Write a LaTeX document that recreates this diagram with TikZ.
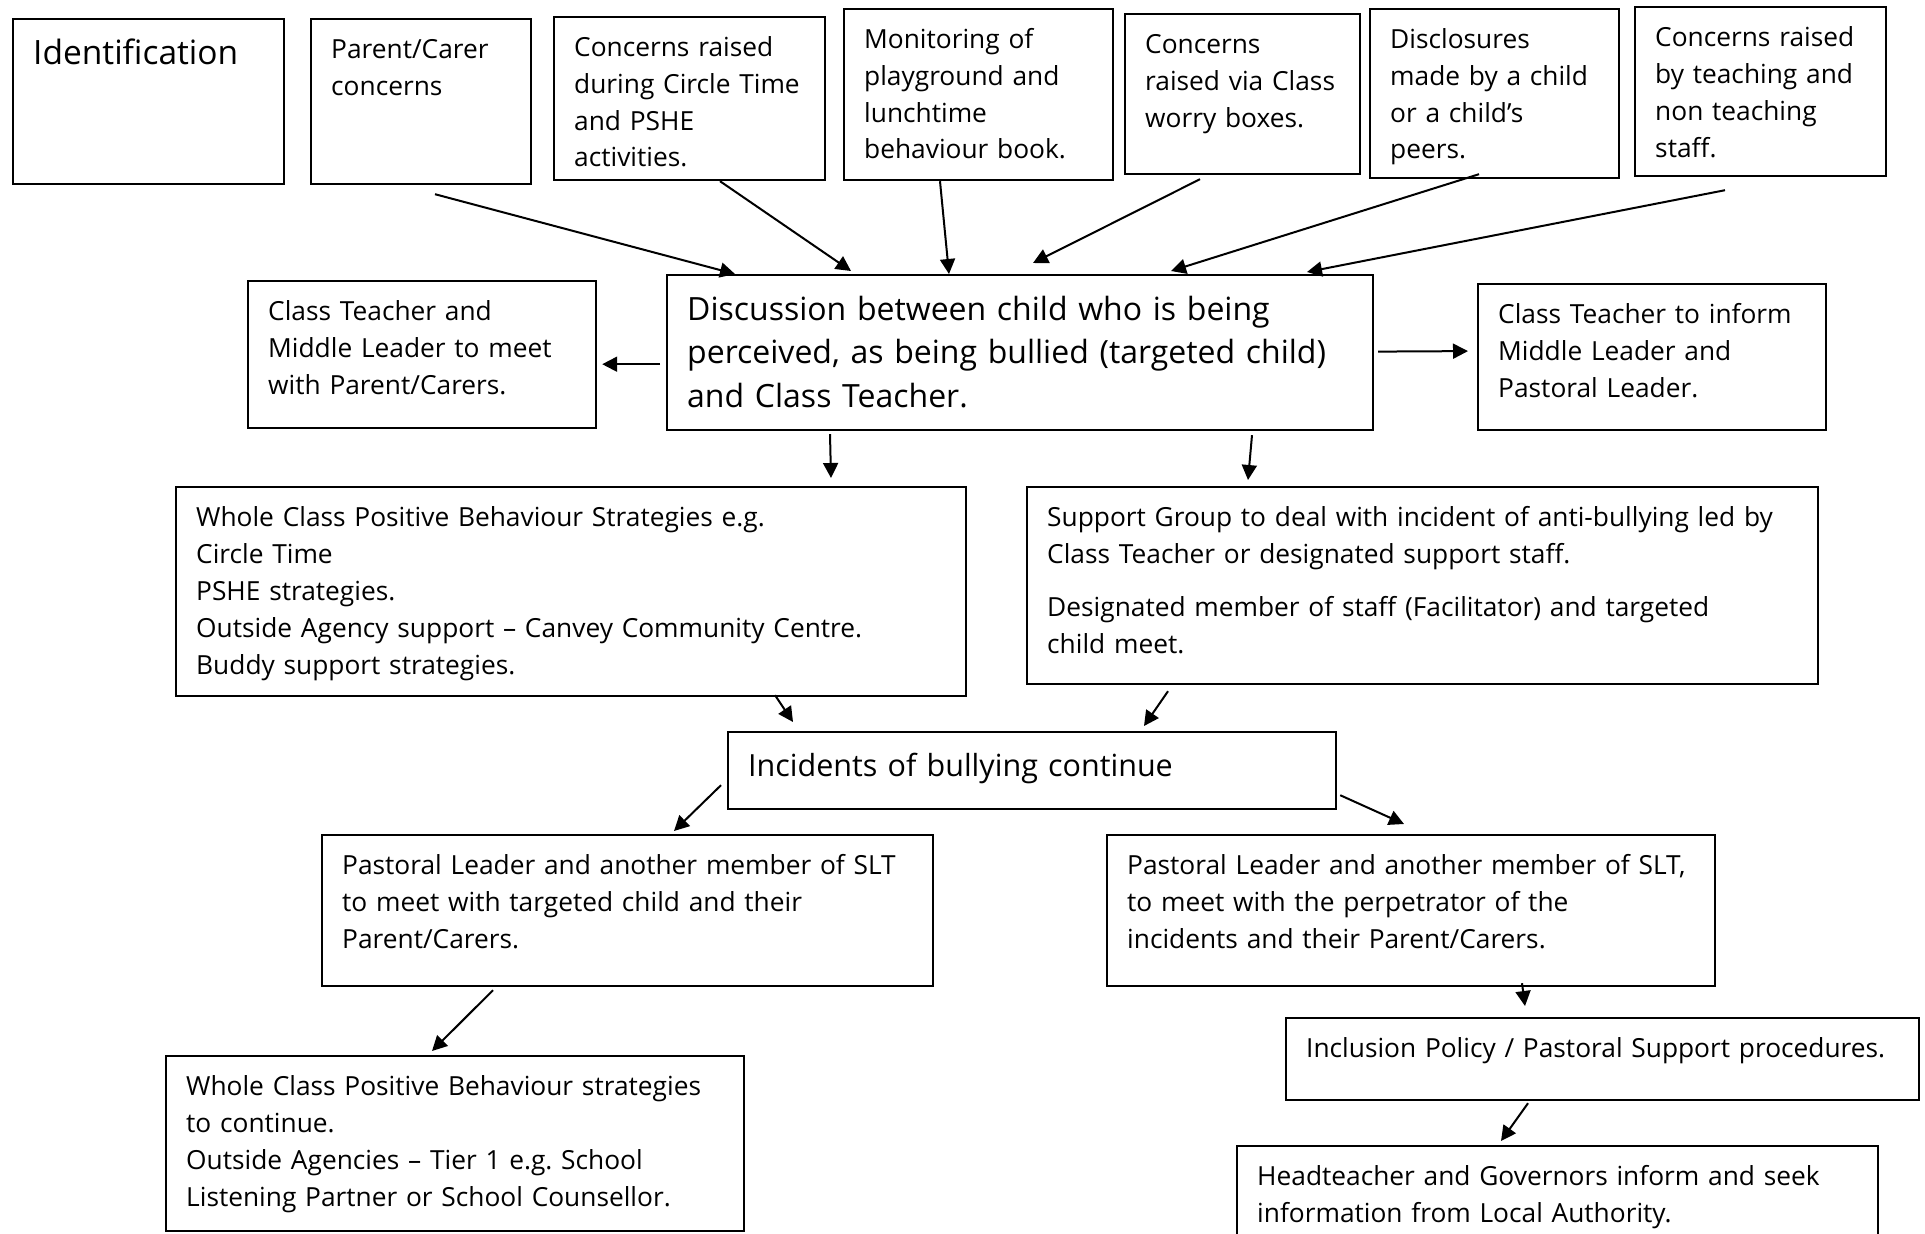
\documentclass[tikz,border=0pt]{standalone}
\usepackage{fontspec}
\setmainfont{Open Sans}
\usetikzlibrary{arrows.meta}
\newcommand{\bodysize}{\fontsize{26.3}{37}\selectfont}
\newcommand{\titlesize}{\fontsize{32}{43.6}\selectfont}
\tikzset{
	box/.style={draw,line width=2.2pt,inner sep=0pt,anchor=north west},
	boxtext/.style={anchor=base west,inner sep=0pt,align=left,font=\bodysize},
	titletext/.style={font=\titlesize,yshift=-6pt},
}
%% #2 = name, #3,#4 = top left corner, #5,#6 = bottom right corner (pixels, y downwards)
\newcommand{\flowbox}[7][]{%
	\pgfmathsetmacro\fbw{#5-#3}
	\pgfmathsetmacro\fbh{#6-#4}
	\pgfmathsetmacro\fbt{#5-#3-42}
	\node[box,minimum width=\fbw pt,minimum height=\fbh pt] (#2) at (#3,#4) {};
	\node[boxtext,text width=\fbt pt,#1] (#2-text) at ([shift={(21,40)}]#2.north west) {#7};
}
\begin{document}
\begin{tikzpicture}[>={Triangle[length=15pt,width=15pt]},x=1pt,y=-1pt]
\clip (0,0) rectangle (1925,1234);

%% top row
\flowbox[titletext,font=\fontsize{33.5}{43.6}\selectfont]{ident}{12}{18}{283}{183}{Identification}
\flowbox{parent}{310}{18}{530}{183}{Parent/Carer\\concerns}
\flowbox{circle}{553}{16}{824}{179}{Concerns raised\\during Circle Time\\and PSHE\\activities.}
\flowbox{monit}{843}{8}{1112}{179}{Monitoring of\\playground and\\lunchtime\\behaviour book.}
\flowbox{worry}{1124}{13}{1359}{173}{Concerns\\raised via Class\\worry boxes.}
\flowbox{discl}{1369}{8}{1618}{177}{Disclosures\\made by a child\\or a child’s\\peers.}
\flowbox{staff}{1634}{6}{1885}{175}{Concerns raised\\by teaching and\\non teaching\\staff.}

%% discussion row
\flowbox[titletext]{disc}{666}{274}{1372}{429}{Discussion between child who is being\\perceived, as being bullied (targeted child)\\and Class Teacher.}
\flowbox{meetpc}{247}{280}{595}{427}{Class Teacher and\\Middle Leader to meet\\with Parent/Carers.}
\flowbox{inform}{1477}{283}{1825}{429}{Class Teacher to inform\\Middle Leader and\\Pastoral Leader.}

%% strategies
\flowbox{whole}{175}{486}{965}{695}{Whole Class Positive Behaviour Strategies e.g.\\Circle Time\\PSHE strategies.\\Outside Agency support – Canvey Community Centre.\\Buddy support strategies.}
\flowbox{support}{1026}{486}{1817}{683}{Support Group to deal with incident of anti-bullying led by\\Class Teacher or designated support staff.\\[16pt]Designated member of staff (Facilitator) and targeted\\child meet.}

%% incidents continue
\flowbox[titletext,font=\fontsize{30.5}{43.6}\selectfont,yshift=1pt]{incid}{727}{731}{1335}{808}{Incidents of bullying continue}
\flowbox{pastl}{321}{834}{932}{985}{Pastoral Leader and another member of SLT\\to meet with targeted child and their\\Parent/Carers.}
\flowbox{pastr}{1106}{834}{1714}{985}{Pastoral Leader and another member of SLT,\\to meet with the perpetrator of the\\incidents and their Parent/Carers.}
\flowbox{cont}{165}{1055}{743}{1230}{Whole Class Positive Behaviour strategies\\to continue.\\Outside Agencies – Tier 1 e.g.\ School\\Listening Partner or School Counsellor.}
\flowbox{incl}{1285}{1017}{1918}{1099}{Inclusion Policy / Pastoral Support procedures.}
\flowbox{head}{1236}{1145}{1877}{1270}{Headteacher and Governors inform and seek\\information from Local Authority.}

%% arrows
\begin{scope}[line width=2pt]
\draw[->] ([shift={(125,9)}]parent.south west) -- ([shift={(69,0)}]disc.north west);
\draw[->] ([shift={(167,0)}]circle.south west) -- ([shift={(185,-3)}]disc.north west);
\draw[->] ([shift={(97,0)}]monit.south west) -- ([shift={(283,0)}]disc.north west);
\draw[->] ([shift={(76,4)}]worry.south west) -- ([shift={(367,-11)}]disc.north west);
\draw[->] ([shift={(110,-5)}]discl.south west) -- ([shift={(505,-3)}]disc.north west);
\draw[->] ([shift={(91,13)}]staff.south west) -- ([shift={(641,-2)}]disc.north west);
\draw[->] ([shift={(-6,-67)}]disc.south west) -- ([shift={(5,-65)}]meetpc.south east);
\draw[->] ([shift={(4,-1)}]disc.east) -- ([shift={(-9,-6)}]inform.west);
\draw[->] ([shift={(164,3)}]disc.south west) -- ([shift={(656,-8)}]whole.north west);
\draw[->] ([shift={(586,4)}]disc.south west) -- ([shift={(222,-6)}]support.north west);
\draw[->] ([shift={(600,-2)}]whole.south west) -- ([shift={(66,-9)}]incid.north west);
\draw[->] ([shift={(142,6)}]support.south west) -- ([shift={(417,-5)}]incid.north west);
\draw[->] ([shift={(-6,-25)}]incid.south west) -- ([shift={(353,-3)}]pastl.north west);
\draw[->] ([shift={(3,-15)}]incid.south east) -- ([shift={(298,-10)}]pastr.north west);
\draw[->] ([shift={(172,3)}]pastl.south west) -- ([shift={(267,-4)}]cont.north west);
\draw[->] ([shift={(416,-4)}]pastr.south west) -- ([shift={(240,-11)}]incl.north west);
\draw[->] ([shift={(243,2)}]incl.south west) -- ([shift={(265,-4)}]head.north west);
\end{scope}
\end{tikzpicture}
\end{document}
